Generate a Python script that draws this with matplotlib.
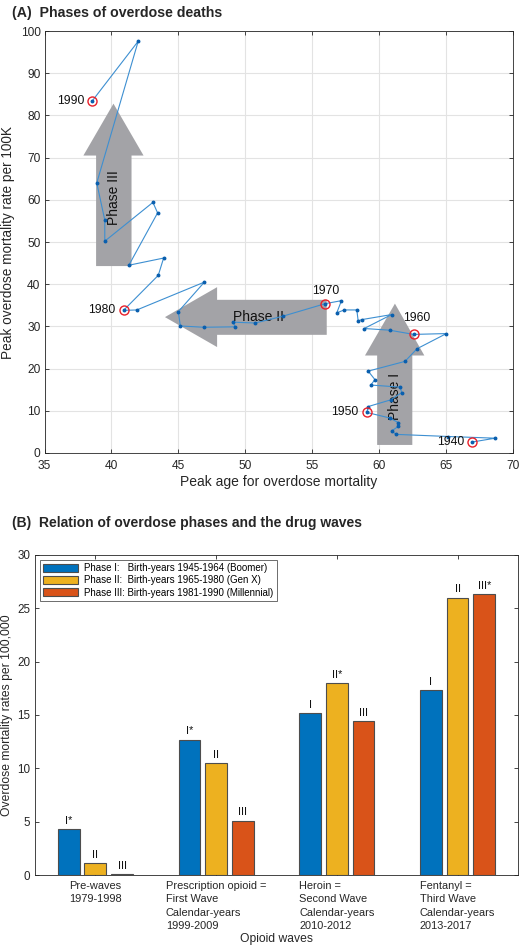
import matplotlib
matplotlib.use("Agg")
import matplotlib.pyplot as plt
from matplotlib.patches import Polygon
import numpy as np

plt.rcParams['font.family'] = ['Liberation Sans', 'DejaVu Sans']

# ---------------- Panel A data (birth cohorts 1940 -> 1990) ----------------
peak_age = [67.0, 68.7, 65.2, 61.3, 60.95, 61.45, 61.45, 60.8, 59.1,
            59.2, 60.9, 61.7, 61.6, 59.4, 59.7, 59.2, 61.95, 62.85, 65.05, 62.6,
            60.8, 58.9, 60.95, 58.7, 58.45, 58.35, 57.4, 56.85, 57.2, 56.0,
            52.8, 50.75, 49.1, 49.25, 46.9, 45.15, 45.0, 46.95, 41.9, 40.9,
            43.5, 43.9, 41.3, 43.45, 43.1, 39.5, 39.5, 38.9, 42.0, 38.55]
peak_rate = [2.6, 3.5, 3.9, 4.4, 5.2, 6.3, 7.2, 8.3, 9.6,
             11.0, 12.6, 14.3, 15.6, 16.1, 17.4, 19.4, 21.7, 24.7, 28.3, 28.1,
             29.1, 29.5, 32.8, 31.6, 31.3, 33.9, 33.9, 33.2, 36.1, 35.4,
             32.4, 30.8, 31.0, 29.9, 29.8, 30.1, 33.5, 40.5, 33.9, 33.8,
             42.1, 46.2, 44.5, 56.9, 59.4, 50.2, 55.2, 64.0, 97.6, 83.4]
marked_years = ['1940', '1950', '1960', '1970', '1980', '1990']
marked_idx = [0, 8, 19, 29, 39, 49]

# ---------------- Panel B data ----------------
wave_labels = ['Pre-waves\n1979-1998',
               'Prescription opioid =\nFirst Wave\nCalendar-years\n1999-2009',
               'Heroin =\nSecond Wave\nCalendar-years\n2010-2012',
               'Fentanyl =\nThird Wave\nCalendar-years\n2013-2017']
phase1 = [4.3, 12.7, 15.2, 17.3]
phase2 = [1.1, 10.5, 18.0, 26.0]
phase3 = [0.1, 5.1, 14.4, 26.3]
phase1_tags = ['I*', 'I*', 'I', 'I']
phase2_tags = ['II', 'II', 'II*', 'II']
phase3_tags = ['III', 'III', 'III', 'III*']
legend_labels = ['Phase I:   Birth-years 1945-1964 (Boomer)',
                 'Phase II:  Birth-years 1965-1980 (Gen X)',
                 'Phase III: Birth-years 1981-1990 (Millennial)']
colors = ['#0072BD', '#EDB120', '#D95319']

fig = plt.figure(figsize=(5.23, 9.48), dpi=100)

# ================= Panel A =================
ax = fig.add_axes([0.0853, 0.5222, 0.8948, 0.4450])
ax.set_xlim(35, 70)
ax.set_ylim(0, 100)
ax.set_xticks(np.arange(35, 71, 5))
ax.set_yticks(np.arange(0, 101, 10))
ax.grid(True, color='#e3e3e3', linewidth=0.8)
ax.set_axisbelow(True)
ax.tick_params(direction='in', top=True, right=True, labelsize=8.6,
               colors='#262626', length=3, width=0.6, pad=3)
ax.tick_params(axis='x', pad=5)
for s in ax.spines.values():
    s.set_color('#262626')
    s.set_linewidth(0.6)

arrow_col = '#a3a3a7'
# Phase I arrow (up)
ax.add_patch(Polygon([(59.87, 1.9), (62.5, 1.9), (62.5, 23.1), (63.4, 23.1),
                      (61.2, 35.4), (58.96, 23.1), (59.87, 23.1)],
                     closed=True, facecolor=arrow_col, edgecolor='none', zorder=1))
# Phase II arrow (left)
ax.add_patch(Polygon([(56.1, 36.3), (47.9, 36.3), (47.9, 39.3), (44.0, 32.2),
                      (47.9, 25.1), (47.9, 28.0), (56.1, 28.0)],
                     closed=True, facecolor=arrow_col, edgecolor='none', zorder=1))
# Phase III arrow (up)
ax.add_patch(Polygon([(38.85, 44.3), (41.5, 44.3), (41.5, 70.5), (42.4, 70.5),
                      (40.15, 82.8), (37.9, 70.5), (38.85, 70.5)],
                     closed=True, facecolor=arrow_col, edgecolor='none', zorder=1))
ax.text(61.2, 13.5, 'Phase I', rotation=90, ha='center', va='center',
        fontsize=10, color='#111111', zorder=2)
ax.text(51.0, 32.2, 'Phase II', ha='center', va='center', fontsize=10,
        color='#111111', zorder=2)
ax.text(40.2, 60.5, 'Phase III', rotation=90, ha='center', va='center',
        fontsize=10, color='#111111', zorder=2)

ax.plot(peak_age, peak_rate, '-', color='#3d8fd1', linewidth=0.8, zorder=3)
ax.plot(peak_age, peak_rate, 'o', color='#0a5fae', markersize=1.8, zorder=4)
mx = [peak_age[i] for i in marked_idx]
my = [peak_rate[i] for i in marked_idx]
ax.plot(mx, my, 'o', markerfacecolor='none', markeredgecolor='#e8202a',
        markersize=6.5, markeredgewidth=1.0, zorder=5)
label_offsets = {'1940': (-0.6, 0.0, 'right', 'center'),
                 '1950': (-0.6, 0.0, 'right', 'center'),
                 '1960': (0.2, 2.4, 'center', 'bottom'),
                 '1970': (0.0, 1.6, 'center', 'bottom'),
                 '1980': (-0.6, 0.0, 'right', 'center'),
                 '1990': (-0.6, 0.0, 'right', 'center')}
for yr, xx, yy in zip(marked_years, mx, my):
    dx, dy, ha, va = label_offsets[yr]
    ax.text(xx + dx, yy + dy, yr, ha=ha, va=va, fontsize=8.8, color='#111111',
            zorder=6)

ax.set_xlabel('Peak age for overdose mortality', fontsize=10, color='#262626',
              labelpad=2)
ax.set_ylabel('Peak overdose mortality rate per 100K', fontsize=9.8,
              color='#262626', labelpad=4)
fig.text(0.023, 0.986, '(A)  Phases of overdose deaths', fontsize=10.2,
         fontweight='bold', color='#262626', va='center', ha='left')

# ================= Panel B =================
bx = fig.add_axes([0.0669, 0.0770, 0.9235, 0.3376])
x = np.arange(1, 5)
w = 0.18
off = 0.221
series = [phase1, phase2, phase3]
tags = [phase1_tags, phase2_tags, phase3_tags]
for k, (vals, tg) in enumerate(zip(series, tags)):
    pos = x + (k - 1) * off
    bx.bar(pos, vals, width=w, color=colors[k], edgecolor='#4d4d4d',
           linewidth=0.8, label=legend_labels[k], zorder=2)
    for p, v, t in zip(pos, vals, tg):
        bx.text(p, v + 0.3, t, ha='center', va='bottom', fontsize=8,
                color='#111111')
bx.set_xlim(0.5, 4.5)
bx.set_ylim(0, 30)
bx.set_yticks(np.arange(0, 31, 5))
bx.set_xticks(x)
bx.set_xticklabels(wave_labels, multialignment='left', fontsize=7.9,
                   linespacing=1.45)
bx.tick_params(direction='in', top=True, right=True, labelsize=8.4,
               colors='#262626', length=3, width=0.6)
bx.tick_params(axis='x', pad=4, labelsize=7.9)
for s in bx.spines.values():
    s.set_color('#262626')
    s.set_linewidth(0.6)
bx.set_xlabel('Opioid waves', fontsize=8.7, color='#262626', labelpad=1)
bx.set_ylabel('Overdose mortality rates per 100,000', fontsize=8.7,
              color='#262626', labelpad=3)
leg = bx.legend(loc='upper left', fontsize=7.0, handlelength=3.6,
                handleheight=0.8, borderaxespad=0.5, labelspacing=0.22,
                fancybox=False, framealpha=1, edgecolor='#555555',
                borderpad=0.35, handletextpad=0.6)
leg.get_frame().set_linewidth(0.6)
fig.text(0.023, 0.448, '(B)  Relation of overdose phases and the drug waves',
         fontsize=10.0, fontweight='bold', color='#262626', va='center',
         ha='left')

fig.savefig('out.png', dpi=100)
